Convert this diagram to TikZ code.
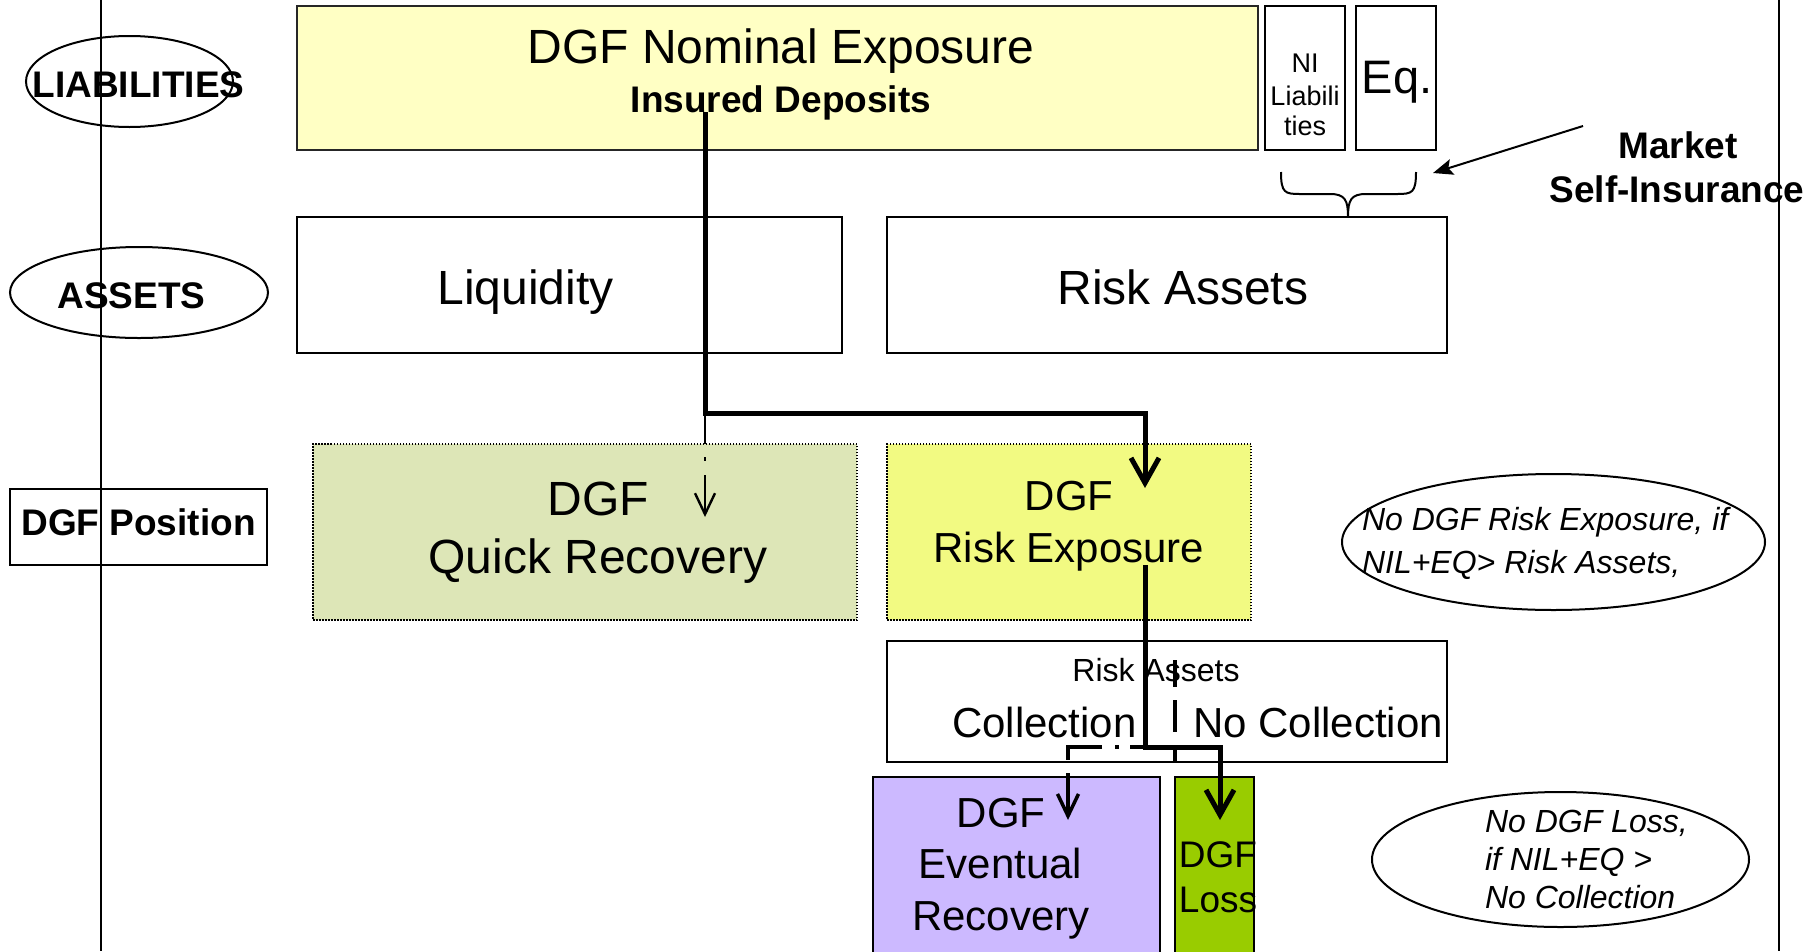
\documentclass[tikz,border=0pt]{standalone}
\usepackage{fontspec}
\setmainfont{Liberation Sans}
\usetikzlibrary{arrows.meta,shapes.geometric}

\definecolor{nomfill}{RGB}{255,255,196}
\definecolor{qrfill}{RGB}{221,230,183}
\definecolor{refill}{RGB}{242,250,130}
\definecolor{evfill}{RGB}{204,185,255}
\definecolor{lossfill}{RGB}{153,204,0}

\tikzset{
  lbl/.style={anchor=base, inner sep=0pt, outer sep=0pt},
  big/.style={lbl, font=\fontsize{48}{56}\selectfont},
  eqtxt/.style={lbl, font=\fontsize{47}{56}\selectfont},
  mid/.style={lbl, font=\fontsize{42}{50}\selectfont},
  lossTxt/.style={lbl, font=\fontsize{37}{44}\selectfont},
  bld/.style={lbl, font=\fontsize{37}{44}\selectfont\bfseries},
  sml/.style={lbl, font=\fontsize{32}{38}\selectfont},
  tiny/.style={lbl, font=\fontsize{27}{32}\selectfont},
  note/.style={lbl, anchor=base west, font=\fontsize{32}{38}\selectfont\itshape},
  box/.style={draw, line width=2pt, rectangle, inner sep=0pt, outer sep=0pt},
  dotbox/.style={draw, line width=1.5pt, dash pattern=on 1.5pt off 1.5pt, rectangle, inner sep=0pt, outer sep=0pt},
  oval/.style={draw, ellipse, line width=2pt, inner sep=0pt, outer sep=0pt},
  flow/.style={line width=5pt, line join=miter, -{Straight Barb[length=25pt,width=28pt]}},
  altflow/.style={line width=3.5pt, -{Straight Barb[length=22pt,width=21pt]}},
  thinflow/.style={line width=2.4pt, -{Straight Barb[length=21pt,width=20pt]}},
  rule/.style={line width=2pt},
}

\begin{document}
\begin{tikzpicture}[x=1pt,y=-1pt]
\useasboundingbox (0,0) rectangle (1818,951);
\clip (0,0) rectangle (1818,951);
\fill[white] (0,0) rectangle (1818,951);

% side rules
\draw[rule] (101,0) -- (101,951);
\draw[rule] (1779,0) -- (1779,951);

% row labels
\node[oval, minimum width=207pt, minimum height=91pt] (liabOval) at (129.5,81.5) {};
\node[bld] (liabTxt) at (138.5,97) {LIABILITIES};
\node[oval, minimum width=258pt, minimum height=91pt] (assetsOval) at (139,292.5) {};
\node[bld] (assetsTxt) at (131.5,308) {ASSETS};
\node[box, minimum width=257pt, minimum height=76pt] (posBox) at (138.75,527) {};
\node[bld] (posTxt) at (138.5,535) {DGF Position};

% liabilities row
\node[box, draw=black!85, fill=nomfill, minimum width=961pt, minimum height=144pt] (nom) at (777.5,78) {};
\node[big] (nomT1) at (781,63) {DGF Nominal Exposure};
\node[bld] (nomT2) at (781,112) {Insured Deposits};
\node[box, minimum width=80pt, minimum height=144pt] (ni) at (1305,78) {};
\node[tiny] (niT1) at (1305,72) {NI};
\node[tiny] (niT2) at (1305,105) {Liabili};
\node[tiny] (niT3) at (1305,135) {ties};
\node[box, minimum width=80pt, minimum height=144pt] (eq) at (1396,78) {};
\node[eqtxt] (eqT) at (1397,93) {Eq.};

% market self-insurance
\node[bld] (mktT1) at (1678,158) {Market};
\node[bld] (mktT2) at (1677,202) {Self-Insurance};
\coordinate (mktFrom) at (1583,126);
\coordinate (mktTo) at (1433,173);
\draw[line width=2pt, -{Stealth[length=20pt,width=16pt,inset=4pt]}] (mktFrom) -- (mktTo);

% assets row
\node[box, minimum width=545pt, minimum height=136pt] (liq) at (569.5,285) {};
\node[big] (liqT) at (525.5,304) {Liquidity};
\node[box, minimum width=560pt, minimum height=136pt] (ra) at (1167,285) {};
\node[big] (raT) at (1183,304) {Risk Assets};

% brace over NI liabilities and equity
\coordinate (braceTip) at (1348,217);
\draw[line width=2pt]
  (1281,172) .. controls (1281,193) and (1285,194) .. (1300,194)
  -- (1330,194) .. controls (1345,194) and (1348,200) .. (braceTip)
  .. controls (1348,200) and (1351,194) .. (1366,194)
  -- (1397,194) .. controls (1412,194) and (1416,193) .. (1416,172);

% DGF position row
\node[dotbox, fill=qrfill, minimum width=544pt, minimum height=176pt] (qr) at (585,532) {};
\node[big] (qrT1) at (598,515) {DGF};
\node[big] (qrT2) at (598,573) {Quick Recovery};
\node[dotbox, fill=refill, minimum width=364pt, minimum height=176pt] (re) at (1069,532) {};
\node[mid] (reT1) at (1069,510) {DGF};
\node[mid] (reT2) at (1069,562) {Risk Exposure};

\node[oval, minimum width=423pt, minimum height=136pt] (noteA) at (1553.5,542) {};
\node[note] (noteA1) at (1362,530) {No DGF Risk Exposure, if};
\node[note] (noteA2) at (1362,573) {NIL+EQ> Risk Assets,};

% risk asset outcomes
\node[box, minimum width=560pt, minimum height=121pt] (col) at (1167,701.5) {};
\node[sml] (colT0) at (1156,681) {Risk Assets};
\node[mid] (colT1) at (1044.5,737) {Collection};
\node[mid] (colT2) at (1318,737) {No Collection};

\node[box, fill=evfill, minimum width=287pt, minimum height=203pt] (ev) at (1016.5,878.5) {};
\node[mid] (evT1) at (1001,827) {DGF};
\node[mid] (evT2) at (1000.5,878) {Eventual};
\node[mid] (evT3) at (1001,930) {Recovery};
\node[box, fill=lossfill, minimum width=79pt, minimum height=203pt] (loss) at (1214.5,878.5) {};
\node[lossTxt] (lossT1) at (1218,867) {DGF};
\node[lossTxt] (lossT2) at (1218,912) {Loss};

\node[oval, minimum width=377pt, minimum height=135pt] (noteB) at (1560.5,859.5) {};
\node[note] (noteB1) at (1485,832) {No DGF Loss,};
\node[note] (noteB2) at (1485,870) {if NIL+EQ >};
\node[note] (noteB3) at (1485,908) {No Collection};

% flow of the insured deposits
\coordinate (insStart) at (705,112);
\coordinate (split1) at (705,413);
\coordinate (reIn) at (1145,488);
\coordinate (qrIn) at (705,517);
\coordinate (reOut) at (1145,565);
\coordinate (split2) at (1145,747);
\coordinate (lossIn) at (1220,820);
\coordinate (evIn) at (1068,820);
\coordinate (sepTop) at (1175,660);

\draw[thinflow, dash pattern=on 31pt off 13pt on 4pt off 14pt on 200pt] (split1) -- (qrIn);
\draw[flow] (insStart) -- (split1) -| (reIn);

\draw[line width=3.5pt, dash pattern=on 27pt off 13pt on 32pt off 15pt on 40pt] (sepTop) -- (sepTop |- col.south);
\draw[altflow, dash pattern=on 15pt off 11pt on 4pt off 13pt on 47pt off 13pt on 60pt] (split2) -| (evIn);
\draw[flow] (reOut) -- (split2) -| (lossIn);
\end{tikzpicture}
\end{document}
